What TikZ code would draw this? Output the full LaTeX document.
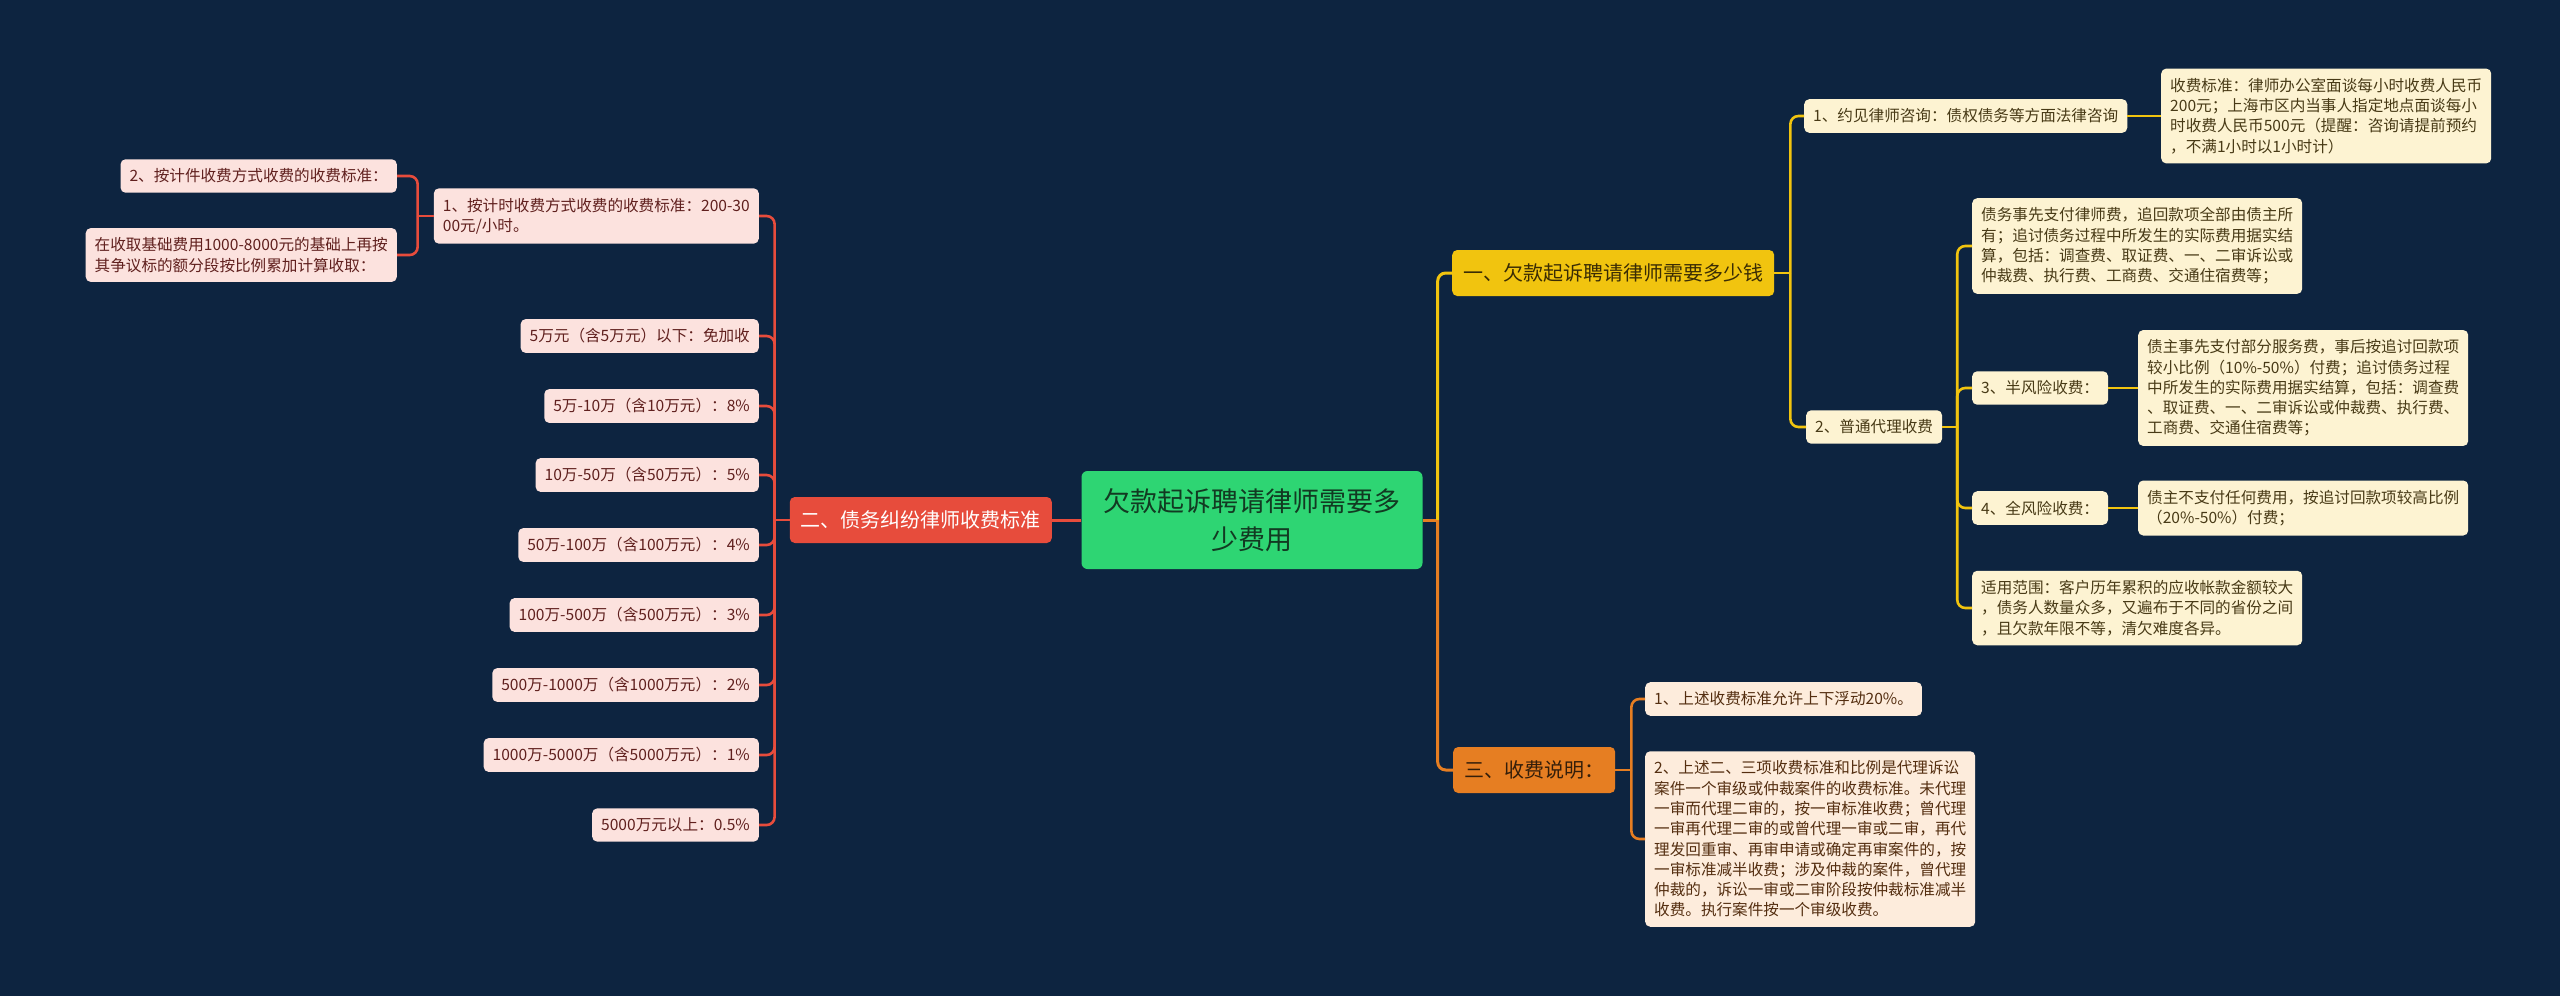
\documentclass[tikz,border=0pt]{standalone}
\usepackage{fontspec}
\setmainfont{Noto Sans CJK SC}
\usepackage{xcolor}
\usepackage{tikz}
\usetikzlibrary{positioning}
\definecolor{mapbg}{RGB}{13,36,64}
\definecolor{mapgreen}{RGB}{46,213,115}
\definecolor{mapgreenink}{RGB}{18,58,34}
\definecolor{mapred}{RGB}{231,76,60}
\definecolor{mapyellow}{RGB}{241,196,15}
\definecolor{mapyellowink}{RGB}{58,44,4}
\definecolor{maporange}{RGB}{230,126,34}
\definecolor{maporangeink}{RGB}{52,30,10}
\definecolor{redleaf}{RGB}{252,226,222}
\definecolor{redink}{RGB}{96,32,30}
\definecolor{yellowleaf}{RGB}{253,243,210}
\definecolor{yellowink}{RGB}{72,58,22}
\definecolor{orangeleaf}{RGB}{253,236,220}
\definecolor{orangeink}{RGB}{84,46,16}

\begin{document}
\begin{tikzpicture}[
  x=1pt, y=-1pt,
  root/.style={fill=mapgreen, text=mapgreenink, rounded corners=6pt, align=center,
               font=\fontsize{27}{38}\selectfont, minimum width=341pt, minimum height=98pt},
  branch/.style={rounded corners=5pt, inner xsep=11pt, inner ysep=0pt,
                 minimum height=46pt, font=\fontsize{20}{24}\selectfont},
  leaf/.style={rounded corners=5pt, inner xsep=9pt, inner ysep=9.5pt, align=left,
               font=\fontsize{15.6}{20.3}\selectfont},
  redleafbox/.style={leaf, fill=redleaf, text=redink, anchor=east},
  yellowleafbox/.style={leaf, fill=yellowleaf, text=yellowink, anchor=west},
  orangeleafbox/.style={leaf, fill=orangeleaf, text=orangeink, anchor=west},
  link/.style={line width=2.6pt, rounded corners=8pt},
  redlink/.style={link, draw=mapred},
  yellowlink/.style={link, draw=mapyellow},
  orangelink/.style={link, draw=maporange}
]
\useasboundingbox (0,0) rectangle (2560,996);
\fill[mapbg] (0,0) rectangle (2560,996);
% ---- centre ----
\node[root] (root) at (1252,520) {欠款起诉聘请律师需要多\\少费用};
% ---- main branches ----
\node[branch, fill=mapred, text=white, anchor=east] (debt) at (1052,520) {二、债务纠纷律师收费标准};
\node[branch, fill=mapyellow, text=mapyellowink, anchor=west] (cost) at (1452,273) {一、欠款起诉聘请律师需要多少钱};
\node[branch, fill=maporange, text=maporangeink, anchor=west] (note) at (1453,770) {三、收费说明：};
% ---- left: fee standards ----
\node[redleafbox] (hourly) at (759,216) {1、按计时收费方式收费的收费标准：200-30\\00元/小时。};
\node[redleafbox] (piece) at (397,176) {2、按计件收费方式收费的收费标准：};
\node[redleafbox] (base) at (397,255) {在收取基础费用1000-8000元的基础上再按\\其争议标的额分段按比例累加计算收取：};
\node[redleafbox] (r1) at (759,336) {5万元（含5万元）以下：免加收};
\node[redleafbox] (r2) at (759,406) {5万-10万（含10万元）：8\%};
\node[redleafbox] (r3) at (759,475) {10万-50万（含50万元）：5\%};
\node[redleafbox] (r4) at (759,545) {50万-100万（含100万元）：4\%};
\node[redleafbox] (r5) at (759,615) {100万-500万（含500万元）：3\%};
\node[redleafbox] (r6) at (759,685) {500万-1000万（含1000万元）：2\%};
\node[redleafbox] (r7) at (759,755) {1000万-5000万（含5000万元）：1\%};
\node[redleafbox] (r8) at (759,825) {5000万元以上：0.5\%};
% ---- right top: lawyer fees ----
\node[yellowleafbox] (consult) at (1804,116) {1、约见律师咨询：债权债务等方面法律咨询};
\node[yellowleafbox] (consultfee) at (2161,116) {收费标准：律师办公室面谈每小时收费人民币\\200元；上海市区内当事人指定地点面谈每小\\时收费人民币500元（提醒：咨询请提前预约\\，不满1小时以1小时计）};
\node[yellowleafbox] (agency) at (1806,427) {2、普通代理收费};
\node[yellowleafbox] (prepay) at (1972,246) {债务事先支付律师费，追回款项全部由债主所\\有；追讨债务过程中所发生的实际费用据实结\\算，包括：调查费、取证费、一、二审诉讼或\\仲裁费、执行费、工商费、交通住宿费等；};
\node[yellowleafbox] (halfrisk) at (1972,388) {3、半风险收费：};
\node[yellowleafbox] (halffee) at (2138,388) {债主事先支付部分服务费，事后按追讨回款项\\较小比例（10\%-50\%）付费；追讨债务过程\\中所发生的实际费用据实结算，包括：调查费\\、取证费、一、二审诉讼或仲裁费、执行费、\\工商费、交通住宿费等；};
\node[yellowleafbox] (fullrisk) at (1972,508) {4、全风险收费：};
\node[yellowleafbox] (fullfee) at (2138,508) {债主不支付任何费用，按追讨回款项较高比例\\（20\%-50\%）付费；};
\node[yellowleafbox] (range) at (1972,608) {适用范围：客户历年累积的应收帐款金额较大\\，债务人数量众多，又遍布于不同的省份之间\\，且欠款年限不等，清欠难度各异。};
% ---- right bottom: notes ----
\node[orangeleafbox] (float) at (1645,699) {1、上述收费标准允许上下浮动20\%。};
\node[orangeleafbox] (explain) at (1645,839) {2、上述二、三项收费标准和比例是代理诉讼\\案件一个审级或仲裁案件的收费标准。未代理\\一审而代理二审的，按一审标准收费；曾代理\\一审再代理二审的或曾代理一审或二审，再代\\理发回重审、再审申请或确定再审案件的，按\\一审标准减半收费；涉及仲裁的案件，曾代理\\仲裁的，诉讼一审或二审阶段按仲裁标准减半\\收费。执行案件按一个审级收费。};
% ---- connectors, left ----
\draw[redlink, line width=3pt] (root.west) -- (debt.east);
\draw[redlink] (debt.west) -- ++(-15,0) coordinate (debtfork);
\draw[redlink] (debtfork) |- (hourly.east);
\draw[redlink] (debtfork) |- (r1.east);
\draw[redlink] (debtfork) |- (r2.east);
\draw[redlink] (debtfork) |- (r3.east);
\draw[redlink] (debtfork) |- (r4.east);
\draw[redlink] (debtfork) |- (r5.east);
\draw[redlink] (debtfork) |- (r6.east);
\draw[redlink] (debtfork) |- (r7.east);
\draw[redlink] (debtfork) |- (r8.east);
\draw[redlink] (hourly.west) -- ++(-16,0) coordinate (hourlyfork);
\draw[redlink] (hourlyfork) |- (piece.east);
\draw[redlink] (hourlyfork) |- (base.east);
% ---- connectors, right ----
\draw[orangelink, line width=3pt] (root.east) -- ++(15,0) coordinate (rootfork);
\draw[yellowlink, line width=3pt] (rootfork) |- (cost.west);
\draw[orangelink, line width=3pt] (rootfork) |- (note.west);
\draw[yellowlink] (cost.east) -- ++(16,0) coordinate (costfork);
\draw[yellowlink] (costfork) |- (consult.west);
\draw[yellowlink] (costfork) |- (agency.west);
\draw[yellowlink] (consult) -- (consultfee);
\draw[yellowlink] (agency.east) -- ++(15,0) coordinate (agencyfork);
\draw[yellowlink] (agencyfork) |- (prepay.west);
\draw[yellowlink] (agencyfork) |- (halfrisk.west);
\draw[yellowlink] (agencyfork) |- (fullrisk.west);
\draw[yellowlink] (agencyfork) |- (range.west);
\draw[yellowlink] (halfrisk) -- (halffee);
\draw[yellowlink] (fullrisk) -- (fullfee);
\draw[orangelink] (note.east) -- ++(16,0) coordinate (notefork);
\draw[orangelink] (notefork) |- (float.west);
\draw[orangelink] (notefork) |- (explain.west);
\end{tikzpicture}
\end{document}
